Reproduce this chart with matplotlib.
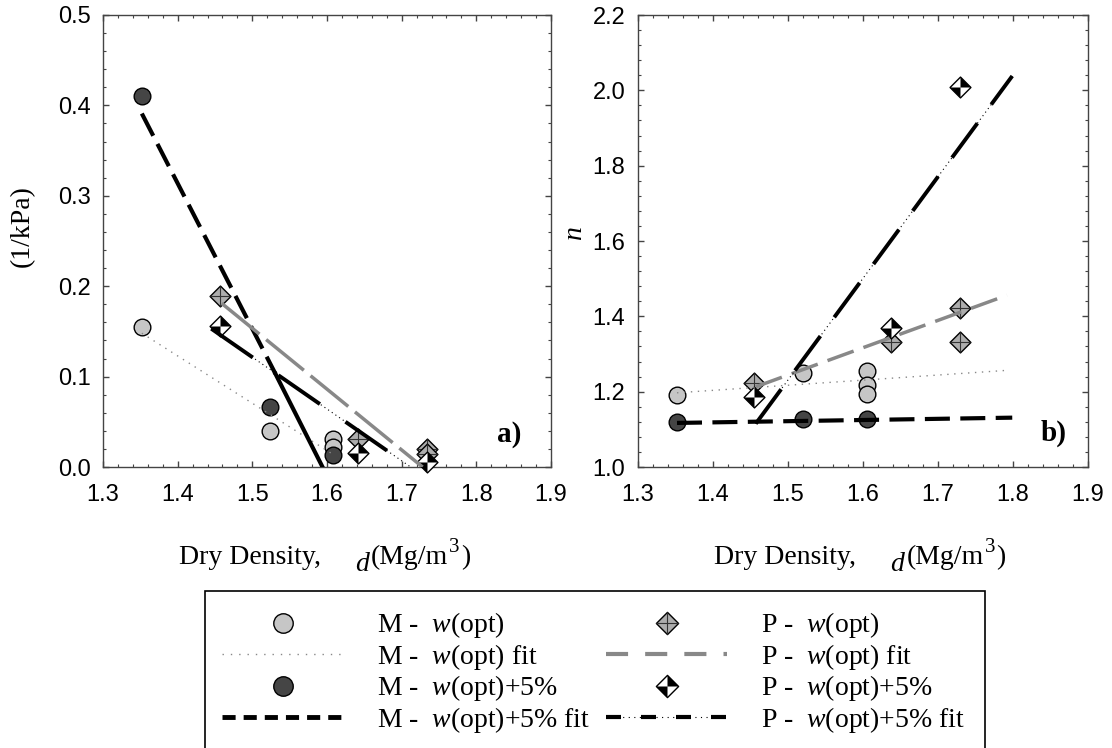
import matplotlib
matplotlib.use("Agg")
import matplotlib.pyplot as plt
from matplotlib.lines import Line2D
from matplotlib.path import Path
from matplotlib.patches import Rectangle
from matplotlib.legend_handler import HandlerTuple
from matplotlib.ticker import MultipleLocator, FormatStrFormatter

plt.rcParams['font.family'] = ['Liberation Sans', 'DejaVu Sans']
plt.rcParams['mathtext.fontset'] = 'custom'
plt.rcParams['mathtext.rm'] = 'Liberation Serif'
plt.rcParams['mathtext.it'] = 'Liberation Serif:italic'

# --- panel a) alpha (1/kPa) vs dry density ---
a_m_opt_x = [1.352, 1.524, 1.608, 1.608]
a_m_opt_y = [0.155, 0.040, 0.031, 0.022]
a_m_wet_x = [1.352, 1.524, 1.608]
a_m_wet_y = [0.410, 0.066, 0.013]
a_p_opt_x = [1.457, 1.642, 1.734, 1.734]
a_p_opt_y = [0.189, 0.031, 0.020, 0.014]
a_p_wet_x = [1.457, 1.642, 1.734]
a_p_wet_y = [0.156, 0.015, 0.006]
# fit lines, end points
a_m_opt_fit_x = [1.352, 1.608]
a_m_opt_fit_y = [0.148, 0.014]
a_m_wet_fit_x = [1.352, 1.531, 1.594]
a_m_wet_fit_y = [0.391, 0.103, 0.0]
a_p_opt_fit_x = [1.459, 1.728]
a_p_opt_fit_y = [0.181, 0.0]
a_p_wet_fit_x = [1.445, 1.712]
a_p_wet_fit_y = [0.153, 0.0]

# --- panel b) n vs dry density ---
b_m_opt_x = [1.352, 1.520, 1.605, 1.605, 1.605]
b_m_opt_y = [1.190, 1.250, 1.254, 1.217, 1.195]
b_m_wet_x = [1.352, 1.520, 1.605]
b_m_wet_y = [1.120, 1.128, 1.128]
b_p_opt_x = [1.455, 1.638, 1.729, 1.729]
b_p_opt_y = [1.223, 1.332, 1.421, 1.332]
b_p_wet_x = [1.455, 1.638, 1.729]
b_p_wet_y = [1.186, 1.368, 2.008]
b_m_opt_fit_x = [1.352, 1.795]
b_m_opt_fit_y = [1.197, 1.257]
b_m_wet_fit_x = [1.352, 1.799]
b_m_wet_fit_y = [1.117, 1.131]
b_p_opt_fit_x = [1.457, 1.792]
b_p_opt_fit_y = [1.213, 1.456]
b_p_wet_fit_x = [1.457, 1.799]
b_p_wet_fit_y = [1.115, 2.038]

legend_labels = ['M -  $\\mathit{w}$(opt)', 'M -  $\\mathit{w}$(opt) fit',
                 'M -  $\\mathit{w}$(opt)+5%', 'M -  $\\mathit{w}$(opt)+5% fit',
                 'P -  $\\mathit{w}$(opt)', 'P -  $\\mathit{w}$(opt) fit',
                 'P -  $\\mathit{w}$(opt)+5%', 'P -  $\\mathit{w}$(opt)+5% fit']

LIGHT = '#c6c6c6'
DARK = '#454545'
MID = '#adadad'
GREYLINE = '#888888'
SERIF = 'Liberation Serif'

# marker shapes
DIAMOND = Path([(0, 1), (1, 0), (0, -1), (-1, 0), (0, 1)], [1, 2, 2, 2, 79])
PLUS = Path([(0, 1), (0, -1), (-1, 0), (1, 0)], [1, 2, 1, 2])
QUADS = Path([(0, 0), (0, 1), (1, 0), (0, 0), (0, 0), (0, -1), (-1, 0), (0, 0)],
             [1, 2, 2, 79, 1, 2, 2, 79])


def circles(ax, x, y, face):
    ax.plot(x, y, ls='none', marker='o', ms=12, mfc=face, mec='black', mew=1,
            clip_on=False, zorder=3)


def p_opt(ax, x, y):
    for xi, yi in zip(x, y):
        ax.plot(xi, yi, ls='none', marker=DIAMOND, ms=15, mfc=MID, mec='black',
                mew=1, clip_on=False, zorder=3)
        ax.plot(xi, yi, ls='none', marker=PLUS, ms=15, mfc='none', mec='#333333',
                mew=0.8, clip_on=False, zorder=3)


def p_wet(ax, x, y):
    for xi, yi in zip(x, y):
        ax.plot(xi, yi, ls='none', marker=DIAMOND, ms=15, mfc='white', mec='black',
                mew=1, clip_on=False, zorder=3)
        ax.plot(xi, yi, ls='none', marker=QUADS, ms=15, mfc='black', mew=0,
                clip_on=False, zorder=3)


def dotdash(ax, x, y, dash):
    ax.plot(x, y, color='black', lw=0.8, dashes=(1, 3), zorder=4)
    ax.plot(x, y, color='black', lw=2.8, dashes=dash, zorder=4)


def style(ax, ylo, yhi, ymaj, ymin):
    ax.set_xlim(1.3, 1.9)
    ax.set_ylim(ylo, yhi)
    ax.xaxis.set_major_locator(MultipleLocator(0.1))
    ax.xaxis.set_minor_locator(MultipleLocator(0.02))
    ax.yaxis.set_major_locator(MultipleLocator(ymaj))
    ax.yaxis.set_minor_locator(MultipleLocator(ymin))
    ax.xaxis.set_major_formatter(FormatStrFormatter('%.1f'))
    ax.yaxis.set_major_formatter(FormatStrFormatter('%.1f'))
    ax.tick_params(which='both', direction='in', top=True, right=True,
                   color='#444444', labelsize=17)
    ax.tick_params(which='major', length=4.5, width=1)
    ax.tick_params(which='minor', length=2.5, width=0.8)
    ax.tick_params(axis='x', pad=12)
    ax.tick_params(axis='y', pad=9)
    for s in ax.spines.values():
        s.set_color('#444444')
        s.set_linewidth(1)


def density_label(ax):
    t1 = ax.text(0.17, -0.2146, 'Dry Density,', transform=ax.transAxes,
                 family=SERIF, size=20, va='baseline', ha='left')
    t2 = ax.annotate('d', xy=(1, 0), xycoords=t1, xytext=(34, -7),
                     textcoords='offset pixels', va='bottom', ha='left',
                     family=SERIF, style='italic', size=20)
    t3 = ax.annotate('(Mg/m', xy=(1, 0), xycoords=(t2, t1), xytext=(2, 0),
                     textcoords='offset pixels', va='bottom', ha='left',
                     family=SERIF, size=20)
    t4 = ax.annotate('3', xy=(1, 1), xycoords=t3, xytext=(1, 7),
                     textcoords='offset pixels', va='top', ha='left',
                     family=SERIF, size=15)
    ax.annotate(')', xy=(1, 0), xycoords=(t4, t3), xytext=(1, 0),
                textcoords='offset pixels', va='bottom', ha='left',
                family=SERIF, size=20)


fig = plt.figure(figsize=(11.12, 7.48), dpi=100)
ax1 = fig.add_axes([103 / 1112, 281 / 748, 448 / 1112, 452 / 748])
ax2 = fig.add_axes([638 / 1112, 281 / 748, 450 / 1112, 452 / 748])

# panel a
circles(ax1, a_m_opt_x, a_m_opt_y, LIGHT)
circles(ax1, a_m_wet_x, a_m_wet_y, DARK)
p_opt(ax1, a_p_opt_x, a_p_opt_y)
p_wet(ax1, a_p_wet_x, a_p_wet_y)
ax1.plot(a_m_opt_fit_x, a_m_opt_fit_y, color=GREYLINE, lw=1, dashes=(1, 4), zorder=4)
ax1.plot(a_m_wet_fit_x[:2], a_m_wet_fit_y[:2], color='black', lw=3, dashes=(6, 2.2), zorder=4)
ax1.plot(a_m_wet_fit_x[1:], a_m_wet_fit_y[1:], color='black', lw=3, zorder=4)
ax1.plot(a_p_opt_fit_x, a_p_opt_fit_y, color=GREYLINE, lw=2.5, dashes=(14, 2.5), zorder=4)
dotdash(ax1, a_p_wet_fit_x, a_p_wet_fit_y, (13, 8))
style(ax1, 0.0, 0.5, 0.1, 0.02)
ax1.text(-0.181, 0.533, '(1/kPa)', transform=ax1.transAxes, rotation=90,
         family=SERIF, size=20, ha='center', va='center')
ax1.text(0.933, 0.073, 'a)', transform=ax1.transAxes, family=SERIF, size=21,
         weight='bold', ha='right', va='center')
density_label(ax1)

# panel b
circles(ax2, b_m_opt_x, b_m_opt_y, LIGHT)
circles(ax2, b_m_wet_x, b_m_wet_y, DARK)
p_opt(ax2, b_p_opt_x, b_p_opt_y)
p_wet(ax2, b_p_wet_x, b_p_wet_y)
ax2.plot(b_m_opt_fit_x, b_m_opt_fit_y, color=GREYLINE, lw=1, dashes=(1, 4), zorder=4)
ax2.plot(b_m_wet_fit_x, b_m_wet_fit_y, color='black', lw=3, dashes=(6, 2.5), zorder=4)
ax2.plot(b_p_opt_fit_x, b_p_opt_fit_y, color=GREYLINE, lw=2.5, dashes=(8, 3), zorder=4)
dotdash(ax2, b_p_wet_fit_x, b_p_wet_fit_y, (11, 6))
style(ax2, 1.0, 2.2, 0.2, 0.04)
ax2.text(-0.142, 0.518, 'n', transform=ax2.transAxes, rotation=90,
         family=SERIF, style='italic', size=20, ha='center', va='center')
ax2.text(0.953, 0.075, 'b)', transform=ax2.transAxes, family=SERIF, size=21,
         weight='bold', ha='right', va='center')
density_label(ax2)

# legend proxies
h_m_opt = Line2D([], [], ls='none', marker='o', ms=14, mfc=LIGHT, mec='black', mew=1)
h_m_opt_fit = Line2D([], [], color=GREYLINE, lw=1, dashes=(1, 5))
h_m_wet = Line2D([], [], ls='none', marker='o', ms=14, mfc=DARK, mec='black', mew=1)
h_m_wet_fit = Line2D([], [], color='black', lw=3.5, dashes=(2.7, 1.65))
h_p_opt = (Line2D([], [], ls='none', marker=DIAMOND, ms=16, mfc=MID, mec='black', mew=1),
           Line2D([], [], ls='none', marker=PLUS, ms=16, mfc='none', mec='#333333', mew=0.8))
h_p_opt_fit = Line2D([], [], color=GREYLINE, lw=3, dashes=(5.3, 4.1))
h_p_wet = (Line2D([], [], ls='none', marker=DIAMOND, ms=16, mfc='white', mec='black', mew=1),
           Line2D([], [], ls='none', marker=QUADS, ms=16, mfc='black', mew=0))
h_p_wet_fit = (Line2D([], [], color='black', lw=0.8, dashes=(1, 4)),
               Line2D([], [], color='black', lw=3, dashes=(3.6, 4.8)))

handles = [h_m_opt, h_m_opt_fit, h_m_wet, h_m_wet_fit,
           h_p_opt, h_p_opt_fit, h_p_wet, h_p_wet_fit]
leg = fig.legend(handles, legend_labels, ncol=2, loc='upper left',
                 bbox_to_anchor=(203 / 1112, 1 - 591 / 748),
                 bbox_transform=fig.transFigure, borderaxespad=0,
                 frameon=False, borderpad=0.7, handlelength=4.35,
                 handletextpad=1.2, columnspacing=0.6, labelspacing=0.05,
                 numpoints=1, prop={'family': SERIF, 'size': 20},
                 handler_map={tuple: HandlerTuple(ndivide=1, pad=0)})

# legend box runs off the bottom edge of the picture
fig.patches.append(Rectangle((205 / 1112, -0.05), 780 / 1112, 0.05 + 157 / 748,
                             transform=fig.transFigure, fill=False,
                             edgecolor='black', lw=1.2))

fig.savefig('out.png', dpi=100)
